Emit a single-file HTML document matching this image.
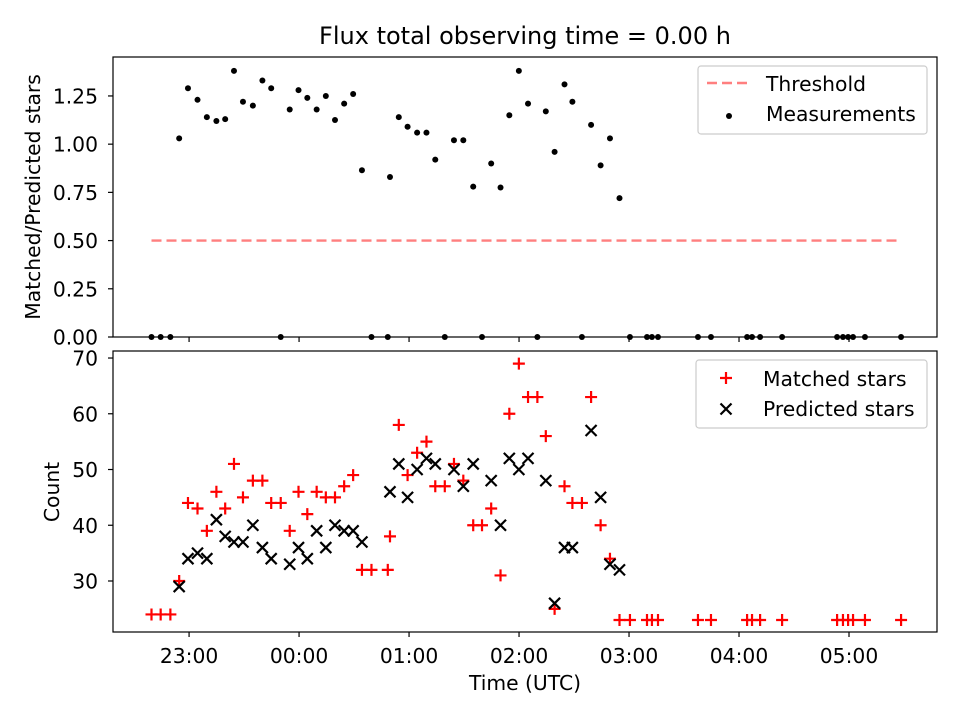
<!DOCTYPE html>
<html><head><meta charset="utf-8"><style>
html,body{margin:0;padding:0;background:#fff}
svg{display:block;font-family:"DejaVu Sans","Liberation Sans",sans-serif}
</style></head><body>
<svg id="chart" width="960" height="720" viewBox="0 0 960 720" xmlns="http://www.w3.org/2000/svg">
<rect width="960" height="720" fill="#fff"/>
<text x="525" y="44" font-size="24" text-anchor="middle" fill="#000">Flux total observing time = 0.00 h</text>
<g id="top"></g>
<g id="bot"></g>
</svg>
<script>
// minutes since 22:00 UTC
const times = [39.5,44.5,49.8,54.6,59.4,64.6,69.7,74.9,79.7,84.5,89.4,94.8,100,104.8,110,114.9,119.7,124.5,129.6,134.6,139.6,144.6,149.5,154.3,159.5,168.4,169.6,174.4,179.2,184.4,189.5,194.3,199.5,204.5,209.6,215,219.8,224.8,229.9,234.7,239.9,244.9,250,254.6,259.4,264.8,269.1,274.3,279.3,284.5,289.6,294.8,300.5,309.8,312.5,315.8,337.6,344.7,364.4,367.1,371.5,383.5,413.5,416.7,419.5,422.2,428.7,448.4];
const matched = [24,24,24,30,44,43,39,46,43,51,45,48,48,44,44,39,46,42,46,45,45,47,49,32,32,32,38,58,49,53,55,47,47,51,48,40,40,43,31,60,69,63,63,56,25,47,44,44,63,40,34,23,23,23,23,23,23,23,23,23,23,23,23,23,23,23,23,23];
const predicted = [null,null,null,29,34,35,34,41,38,37,37,40,36,34,null,33,36,34,39,36,40,39,39,37,null,null,46,51,45,50,52,51,null,50,47,51,null,48,40,52,50,52,null,48,26,36,36,null,57,45,33,32,null,null,null,null,null,null,null,null,null,null,null,null,null,null,null,null];
const ratio = [0,0,0,1.03,1.29,1.23,1.14,1.12,1.13,1.38,1.22,1.2,1.33,1.29,0,1.18,1.28,1.24,1.18,1.25,1.125,1.21,1.26,0.865,0,0,0.83,1.14,1.09,1.06,1.06,0.92,0,1.02,1.02,0.78,0,0.9,0.775,1.15,1.38,1.21,0,1.17,0.96,1.31,1.22,0,1.1,0.89,1.03,0.72,0,0,0,0,0,0,0,0,0,0,0,0,0,0,0,0];
const threshold = 0.5;
const xTickMinutes = [60,120,180,240,300,360,420];
const xTickLabels = ["23:00","00:00","01:00","02:00","03:00","04:00","05:00"];
const topTicks = [0,0.25,0.5,0.75,1.0,1.25];
const botTicks = [30,40,50,60,70];

const NS="http://www.w3.org/2000/svg";
const FS=20.3;
function mk(tag,attrs,parent){const e=document.createElementNS(NS,tag);for(const k in attrs)e.setAttribute(k,attrs[k]);parent.appendChild(e);return e;}
const L=113,R=937;
const xScale=t=>L+(t-18.5)*(R-L)/(468-18.5);
const T1=57,B1=337,yTop=v=>B1-v*(B1-T1)/1.452;
const T2=351,B2=632,yBot=v=>B2-(v-20.85)*(B2-T2)/(71.26-20.85);
const gt=document.getElementById('top'), gb=document.getElementById('bot');

function frame(g,T,B,name){
  const r=mk('rect',{x:L,y:T,width:R-L,height:B-T,fill:'none',stroke:'#000','stroke-width':1.2},g);
  
  
}
function xticks(g,B,labels){
  xTickMinutes.forEach((m,i)=>{
    const x=xScale(m);
    const t=mk('line',{x1:x,x2:x,y1:B,y2:B+5,stroke:'#000','stroke-width':1.2},g);
    
    
    if(labels){
      const tx=mk('text',{x:x,y:B+31,'font-size':FS,'text-anchor':'middle'},g);
      tx.textContent=xTickLabels[i];
      
      
    }
  });
}
function yticks(g,ticks,ys,fmt){
  ticks.forEach(v=>{
    const y=ys(v);
    const t=mk('line',{x1:L-5,x2:L,y1:y,y2:y,stroke:'#000','stroke-width':1.2},g);
    
    
    const tx=mk('text',{x:L-15,y:y+7.5,'font-size':FS,'text-anchor':'end'},g);
    tx.textContent=fmt(v);
    
    
  });
}

// top panel
const th=mk('line',{x1:xScale(times[0]),x2:xScale(times[times.length-1]),y1:yTop(threshold),y2:yTop(threshold),stroke:'#ff7f7f','stroke-width':2.4,'stroke-dasharray':'10,5'},gt);


times.forEach((t,i)=>{
  const c=mk('circle',{cx:xScale(t),cy:yTop(ratio[i]),r:3,fill:'#000'},gt);
  
  
});
frame(gt,T1,B1,'top-axes-frame');
xticks(gt,B1,false);
yticks(gt,topTicks,yTop,v=>v.toFixed(2));
const yl1=mk('text',{x:0,y:0,'font-size':FS,'text-anchor':'middle',transform:'translate(40,197) rotate(-90)'},gt);
yl1.textContent='Matched/Predicted stars';



// bottom panel
function plus(g,x,y){
  return mk('path',{d:`M${x-6},${y}H${x+6}M${x},${y-6}V${y+6}`,stroke:'#ff0000','stroke-width':2.2,fill:'none'},g);
}
function cross(g,x,y){
  return mk('path',{d:`M${x-5.5},${y-5.5}L${x+5.5},${y+5.5}M${x-5.5},${y+5.5}L${x+5.5},${y-5.5}`,stroke:'#000','stroke-width':2.2,fill:'none'},g);
}
times.forEach((t,i)=>{
  const p=plus(gb,xScale(t),yBot(matched[i]));
  
  
});
times.forEach((t,i)=>{
  if(predicted[i]==null)return;
  const c=cross(gb,xScale(t),yBot(predicted[i]));
  
  
});
frame(gb,T2,B2,'bottom-axes-frame');
xticks(gb,B2,true);
yticks(gb,botTicks,yBot,v=>String(v));
const yl2=mk('text',{x:0,y:0,'font-size':FS,'text-anchor':'middle',transform:'translate(59,492) rotate(-90)'},gb);
yl2.textContent='Count';


const xl=mk('text',{x:525,y:690,'font-size':FS,'text-anchor':'middle'},gb);
xl.textContent='Time (UTC)';



// legends
const lg1=mk('g',{},gt);


mk('rect',{x:698,y:66,width:229,height:68,rx:3,fill:'#fff',stroke:'#ccc','stroke-width':1.2},lg1);
const le1=mk('line',{x1:707,x2:749,y1:83,y2:83,stroke:'#ff7f7f','stroke-width':2.4,'stroke-dasharray':'10,5'},lg1);


let t1=mk('text',{x:766,y:91,'font-size':FS},lg1);t1.textContent='Threshold';


mk('circle',{cx:729,cy:116,r:3,fill:'#000'},lg1);
let t2=mk('text',{x:766,y:121,'font-size':FS},lg1);t2.textContent='Measurements';



const lg2=mk('g',{},gb);


mk('rect',{x:696,y:360,width:231,height:68,rx:3,fill:'#fff',stroke:'#ccc','stroke-width':1.2},lg2);
plus(lg2,726,378);
let t3=mk('text',{x:763,y:386,'font-size':FS},lg2);t3.textContent='Matched stars';


cross(lg2,726,409);
let t4=mk('text',{x:763,y:416,'font-size':FS},lg2);t4.textContent='Predicted stars';


</script>
</body></html>
